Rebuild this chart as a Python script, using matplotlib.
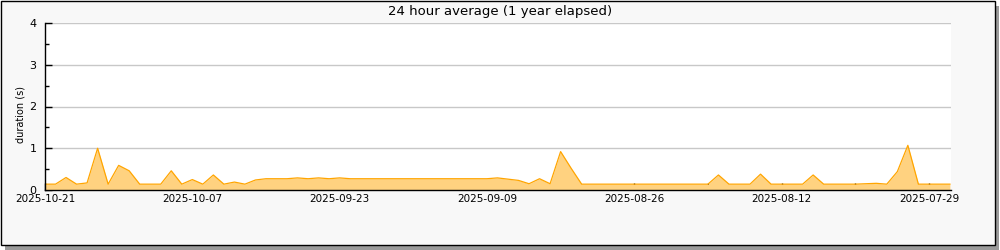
import pandas as pd
import matplotlib
matplotlib.use("Agg")
import matplotlib.pyplot as plt
from matplotlib.patches import Rectangle

# daily 24h averages, newest first (day 0 = 2025-10-21)
start_date = "2025-10-21"
durations = [
    0.14, 0.14, 0.30, 0.14, 0.17, 1.00, 0.14, 0.59, 0.46, 0.14,
    0.14, 0.14, 0.46, 0.14, 0.25, 0.14, 0.36, 0.14, 0.19, 0.14,
    0.24, 0.27, 0.27, 0.27, 0.29, 0.27, 0.29, 0.27, 0.29, 0.27,
    0.27, 0.27, 0.27, 0.27, 0.27, 0.27, 0.27, 0.27, 0.27, 0.27,
    0.27, 0.27, 0.27, 0.29, 0.26, 0.23, 0.15, 0.27, 0.15, 0.92,
    0.52, 0.14, 0.14, 0.14, 0.14, 0.14, 0.14, 0.14, 0.14, 0.14,
    0.14, 0.14, 0.14, 0.14, 0.36, 0.14, 0.14, 0.14, 0.38, 0.14,
    0.14, 0.14, 0.14, 0.36, 0.14, 0.14, 0.14, 0.14, 0.15, 0.16,
    0.14, 0.44, 1.07, 0.14, 0.14, 0.14, 0.14,
]
tick_labels = ["2025-10-21", "2025-10-07", "2025-09-23", "2025-09-09",
               "2025-08-26", "2025-08-12", "2025-07-29"]
y_ticks = [0, 1, 2, 3, 4]

dates = pd.date_range(end=start_date, periods=len(durations), freq="D")[::-1]
major = pd.to_datetime(tick_labels)
minor = major[:-1] - pd.Timedelta(days=7)

fig = plt.figure(figsize=(10, 2.5), dpi=100)
fig.patch.set_facecolor("white")

# framed panel with drop shadow
fig.add_artist(Rectangle((0.005, 0.0), 0.994, 0.976, transform=fig.transFigure,
                         facecolor="#9a9a9a", edgecolor="none", zorder=-3))
fig.add_artist(Rectangle((0.0005, 0.022), 0.994, 0.976, transform=fig.transFigure,
                         facecolor="#f8f8f8", edgecolor="black", lw=1, zorder=-2))

ax = fig.add_axes([0.045, 0.24, 0.906, 0.668])
ax.set_facecolor("white")
ax.fill_between(dates, durations, 0, color="#ffd280", lw=0, zorder=2)
ax.plot(dates, durations, color="#ffa500", lw=0.9, zorder=3)

ax.set_xticks(major)
ax.set_xticklabels(tick_labels)
ax.set_xticks(minor, minor=True)
ax.set_yticks(y_ticks)
ax.set_yticks([0.5, 1.5, 2.5, 3.5], minor=True)

ax.set_xlim(pd.Timestamp(start_date), pd.Timestamp(start_date) - pd.Timedelta(days=86.1))
ax.set_ylim(0, 4)

ax.grid(axis="y", which="major", color="#c8c8c8", lw=1)
ax.set_axisbelow(True)
for s in ["top", "right"]:
    ax.spines[s].set_visible(False)
for s in ["left", "bottom"]:
    ax.spines[s].set_linewidth(1)
    ax.spines[s].set_zorder(4)

ax.tick_params(axis="both", which="major", direction="in", length=5, width=1,
               labelsize=7.5, colors="black", pad=3)
ax.tick_params(axis="both", which="minor", direction="in", length=3, width=1)
ax.tick_params(axis="x", which="minor", length=5)
ax.tick_params(axis="y", labelsize=8, pad=6)

ax.set_ylabel("duration (s)", fontsize=7)
ax.yaxis.set_label_coords(-0.022, 0.45)
fig.text(0.5, 0.955, "24 hour average (1 year elapsed)", ha="center", va="center",
         fontsize=9.5)

fig.savefig("out.png", dpi=100, facecolor=fig.get_facecolor())
